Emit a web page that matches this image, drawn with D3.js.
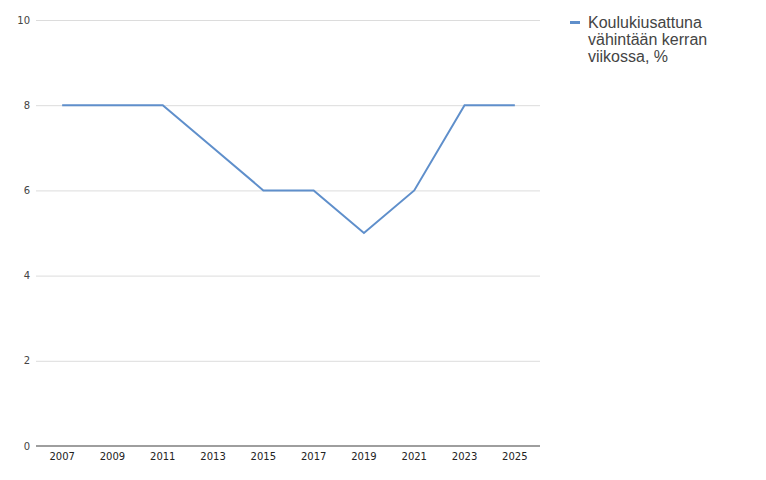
<!DOCTYPE html>
<html>
<head>
<meta charset="utf-8">
<script src="https://cdn.jsdelivr.net/npm/d3@7"></script>
<style>
  html, body { margin: 0; padding: 0; background: #fff; }
  svg { display: block; font-family: "DejaVu Sans", Verdana, sans-serif; }
</style>
</head>
<body>
<svg id="chart" width="766" height="480"></svg>
<script>
const years = ["2007", "2009", "2011", "2013", "2015", "2017", "2019", "2021", "2023", "2025"];
const values = [8, 8, 8, 7, 6, 6, 5, 6, 8, 8];
const yTicks = [0, 2, 4, 6, 8, 10];
const seriesName = ["Koulukiusattuna", "vähintään kerran", "viikossa, %"];

const svg = d3.select("#chart");
const plotLeft = 37, plotRight = 540, plotTop = 20, plotBottom = 446;

const x = d3.scaleBand().domain(years).range([plotLeft, plotRight]);
const y = d3.scaleLinear().domain([0, 10]).range([plotBottom, plotTop]);

// gridlines
svg.append("g").selectAll("line")
  .data(yTicks.filter(d => d !== 0))
  .join("line")
  .attr("x1", plotLeft - 1).attr("x2", plotRight)
  .attr("y1", d => y(d) + 0.5).attr("y2", d => y(d) + 0.5)
  .attr("stroke", "#dcdcdc").attr("stroke-width", 1);

// baseline
svg.append("line")
  .attr("x1", plotLeft - 1).attr("x2", plotRight)
  .attr("y1", y(0)).attr("y2", y(0))
  .attr("stroke", "#9e9e9e").attr("stroke-width", 2);

// y labels
svg.append("g").selectAll("text")
  .data(yTicks)
  .join("text")
  .attr("x", 30).attr("y", d => y(d))
  .attr("dy", "0.35em")
  .attr("text-anchor", "end")
  .attr("font-size", 10)
  .attr("fill", "#444")
  .text(d => d);

// x labels
svg.append("g").selectAll("text")
  .data(years)
  .join("text")
  .attr("x", d => x(d) + x.bandwidth() / 2)
  .attr("y", 460)
  .attr("text-anchor", "middle")
  .attr("font-size", 10)
  .attr("fill", "#222")
  .text(d => d);

// line
const line = d3.line()
  .x((d, i) => x(years[i]) + x.bandwidth() / 2)
  .y(d => y(d));
svg.append("path")
  .datum(values)
  .attr("d", line)
  .attr("fill", "none")
  .attr("stroke", "#5f8fcb")
  .attr("stroke-width", 2);

// legend
svg.append("rect")
  .attr("x", 570).attr("y", 21).attr("width", 10).attr("height", 3)
  .attr("fill", "#5f8fcb");
svg.append("g").selectAll("text")
  .data(seriesName)
  .join("text")
  .attr("x", 588)
  .attr("y", (d, i) => 28 + i * 17)
  .attr("font-family", "'Liberation Sans', Arial, sans-serif")
  .attr("font-size", 16)
  .attr("fill", "#444")
  .text(d => d);
</script>
</body>
</html>
